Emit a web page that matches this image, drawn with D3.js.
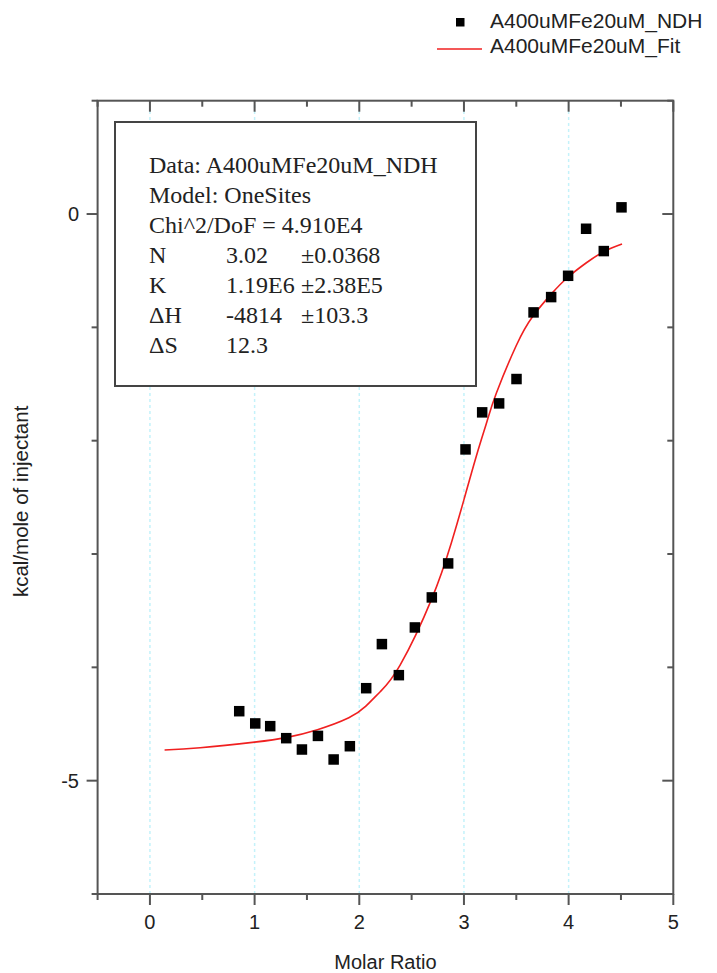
<!DOCTYPE html>
<html>
<head>
<meta charset="utf-8">
<script src="https://cdn.jsdelivr.net/npm/d3@7"></script>
<style>
  html, body { margin: 0; padding: 0; background: #fff; }
  svg { display: block; }
  .sans { font-family: Arial, "Liberation Sans", sans-serif; }
  .serif { font-family: "Times New Roman", "Liberation Serif", serif; }
</style>
</head>
<body>
<svg id="chart" width="717" height="973"></svg>
<script>
// Measured heats per injection (molar ratio vs kcal/mole of injectant)
const molarRatio = [0.853, 1.006, 1.149, 1.302, 1.452, 1.605, 1.755, 1.910, 2.066, 2.216,
                    2.378, 2.531, 2.693, 2.849, 3.015, 3.174, 3.336, 3.502, 3.665, 3.833,
                    3.995, 4.167, 4.336, 4.505];
const heat = [-4.387, -4.495, -4.519, -4.625, -4.725, -4.605, -4.813, -4.696, -4.184, -3.795,
              -4.069, -3.648, -3.383, -3.083, -2.077, -1.750, -1.671, -1.456, -0.868, -0.733,
              -0.545, -0.130, -0.327, 0.059];

// One-site fit curve
const fitX = [0.14, 0.48, 1.00, 1.30, 1.60, 1.90, 2.06, 2.20, 2.39,
              2.69, 2.88, 3.00, 3.12, 3.22, 3.31, 3.50, 3.66, 3.84, 3.99,
              4.17, 4.34, 4.51];
const fitY = [-4.73, -4.71, -4.66, -4.62, -4.55, -4.445, -4.345, -4.215, -3.98,
              -3.40, -2.90, -2.52, -2.13, -1.83, -1.58, -1.16, -0.90, -0.70, -0.56,
              -0.43, -0.33, -0.265];

const xMajorTicks = [0, 1, 2, 3, 4, 5];
const xMinorTicks = [-0.5, 0.5, 1.5, 2.5, 3.5, 4.5];
const yMajorTicks = [0, -5];
const yMinorTicks = [1, -1, -2, -3, -4, -6];
const gridX = [0, 1, 2, 3, 4];

const seriesNames = ["A400uMFe20uM_NDH", "A400uMFe20uM_Fit"];
const fitReport = [
  ["Data: A400uMFe20uM_NDH"],
  ["Model: OneSites"],
  ["Chi^2/DoF = 4.910E4"],
  ["N", "3.02", "\u00B10.0368"],
  ["K", "1.19E6", "\u00B12.38E5"],
  ["\u0394H", "-4814", "\u00B1103.3"],
  ["\u0394S", "12.3"]
];

const svg = d3.select("#chart");
const axisColor = "#555";
const fitColor = "#f02020";

const x = d3.scaleLinear().domain([-0.5, 5]).range([97.6, 673.3]);
const y = d3.scaleLinear().domain([-6, 1]).range([894, 100.7]);

// vertical dashed grid
svg.append("g").selectAll("line").data(gridX).join("line")
  .attr("x1", d => x(d)).attr("x2", d => x(d))
  .attr("y1", y(-6)).attr("y2", y(1))
  .attr("stroke", "#c4f2fa").attr("stroke-width", 1.5)
  .attr("stroke-dasharray", "3,3");

// fit line
const line = d3.line().x(d => x(d[0])).y(d => y(d[1])).curve(d3.curveNatural);
svg.append("path")
  .datum(fitX.map((v, i) => [v, fitY[i]]))
  .attr("d", line)
  .attr("fill", "none")
  .attr("stroke", fitColor)
  .attr("stroke-width", 1.6);

// data markers
const ms = 10.5;
svg.append("g").selectAll("rect").data(molarRatio.map((v, i) => [v, heat[i]])).join("rect")
  .attr("x", d => x(d[0]) - ms / 2)
  .attr("y", d => y(d[1]) - ms / 2)
  .attr("width", ms).attr("height", ms)
  .attr("fill", "#000");

// frame
const frame = svg.append("g").attr("stroke", axisColor).attr("stroke-width", 2).attr("fill", "none");
frame.append("rect")
  .attr("x", x(-0.5)).attr("y", y(1))
  .attr("width", x(5) - x(-0.5)).attr("height", y(-6) - y(1));

// bottom ticks (outward)
frame.selectAll(".bmaj").data(xMajorTicks).join("line")
  .attr("x1", d => x(d)).attr("x2", d => x(d))
  .attr("y1", y(-6)).attr("y2", y(-6) + 11);
frame.selectAll(".bmin").data(xMinorTicks).join("line")
  .attr("x1", d => x(d)).attr("x2", d => x(d))
  .attr("y1", y(-6)).attr("y2", y(-6) + 6);
// top ticks (inward)
const topG = frame.append("g");
topG.selectAll("line.maj").data(xMajorTicks).join("line")
  .attr("x1", d => x(d)).attr("x2", d => x(d))
  .attr("y1", y(1)).attr("y2", y(1) + 11);
topG.selectAll("line.min").data(xMinorTicks).join("line")
  .attr("x1", d => x(d)).attr("x2", d => x(d))
  .attr("y1", y(1)).attr("y2", y(1) + 6);
// left ticks (outward)
const leftG = frame.append("g");
leftG.selectAll("line.maj").data(yMajorTicks).join("line")
  .attr("x1", x(-0.5) - 11).attr("x2", x(-0.5))
  .attr("y1", d => y(d)).attr("y2", d => y(d));
leftG.selectAll("line.min").data(yMinorTicks).join("line")
  .attr("x1", x(-0.5) - 6).attr("x2", x(-0.5))
  .attr("y1", d => y(d)).attr("y2", d => y(d));
// right ticks (inward)
const rightG = frame.append("g");
rightG.selectAll("line.maj").data(yMajorTicks).join("line")
  .attr("x1", x(5) - 11).attr("x2", x(5))
  .attr("y1", d => y(d)).attr("y2", d => y(d));
rightG.selectAll("line.min").data(yMinorTicks).join("line")
  .attr("x1", x(5) - 6).attr("x2", x(5))
  .attr("y1", d => y(d)).attr("y2", d => y(d));

// tick labels
svg.append("g").attr("class", "sans").selectAll("text").data(xMajorTicks).join("text")
  .attr("x", d => x(d)).attr("y", 929)
  .attr("text-anchor", "middle")
  .attr("font-size", 20).attr("fill", "#222")
  .text(d => d);
svg.append("g").attr("class", "sans").selectAll("text").data(yMajorTicks).join("text")
  .attr("x", 79).attr("y", d => y(d))
  .attr("dy", "0.36em")
  .attr("text-anchor", "end")
  .attr("font-size", 20).attr("fill", "#222")
  .text(d => d);

// axis titles
svg.append("text").attr("class", "sans")
  .attr("x", (x(-0.5) + x(5)) / 2).attr("y", 969)
  .attr("text-anchor", "middle").attr("font-size", 20).attr("fill", "#222")
  .text("Molar Ratio");
svg.append("text").attr("class", "sans")
  .attr("transform", `translate(28,${(y(-6) + y(1)) / 2 + 4}) rotate(-90)`)
  .attr("text-anchor", "middle").attr("font-size", 20.5).attr("fill", "#222")
  .text("kcal/mole of injectant");

// legend
const lg = svg.append("g").attr("class", "sans");
lg.append("rect").attr("x", 456).attr("y", 18).attr("width", 8.5).attr("height", 8.5).attr("fill", "#000");
lg.append("text").attr("x", 490).attr("y", 28).attr("font-size", 21).attr("fill", "#222").text(seriesNames[0]);
lg.append("line").attr("x1", 437).attr("x2", 482).attr("y1", 49).attr("y2", 49)
  .attr("stroke", fitColor).attr("stroke-width", 1.6);
lg.append("text").attr("x", 490).attr("y", 53).attr("font-size", 21).attr("fill", "#222").text(seriesNames[1]);

// fit report box
svg.append("rect").attr("x", 115).attr("y", 122).attr("width", 361).attr("height", 264)
  .attr("fill", "#fff").attr("stroke", "#444").attr("stroke-width", 2);
const cols = [149, 226, 301];
const rep = svg.append("g").attr("class", "serif").attr("font-size", 24).attr("fill", "#222");
fitReport.forEach((row, i) => {
  row.forEach((cell, j) => {
    rep.append("text").attr("x", cols[j]).attr("y", 172.5 + 30 * i).text(cell);
  });
});
</script>
</body>
</html>
